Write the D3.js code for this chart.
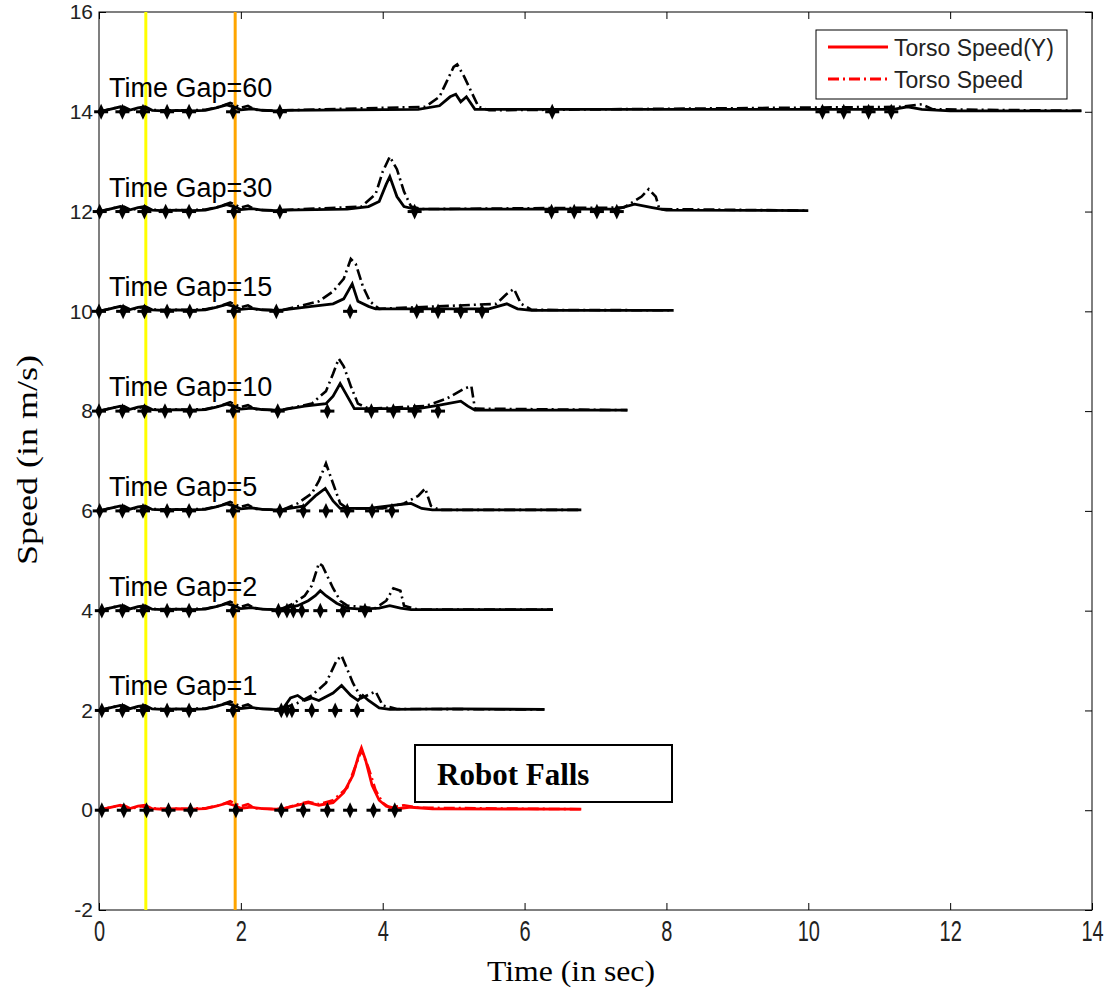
<!DOCTYPE html>
<html><head><meta charset="utf-8">
<script src="https://cdn.jsdelivr.net/npm/d3@7"></script>
<style>body{margin:0;background:#fff}svg{display:block}</style>
</head><body><svg id="c" width="1104" height="990"></svg>
<script>
// ---- data ----
const labels = ["", "Time Gap=1", "Time Gap=2", "Time Gap=5", "Time Gap=10", "Time Gap=15", "Time Gap=30", "Time Gap=60"];
const offsets = [0, 2, 4, 6, 8, 10, 12, 14];
const xTicks = [0, 2, 4, 6, 8, 10, 12, 14];
const yTicks = [-2, 0, 2, 4, 6, 8, 10, 12, 14, 16];
const markerLines = [0.66, 1.92];
const earlyY = [[0,0],[0.15,0.05],[0.3,0.1],[0.4,0.02],[0.55,0.08],[0.65,0.1],[0.75,0.03],[0.9,0.02],[1.1,0.03],[1.3,0.02],[1.5,0.03],[1.65,0.08],[1.8,0.14],[1.9,0.1],[2.0,0.04],[2.15,0.06],[2.3,0.03],[2.5,0.02]];
const early = [[0,0],[0.2,0.07],[0.35,0.1],[0.45,0.03],[0.6,0.08],[0.7,0.04],[0.9,0.03],[1.2,0.03],[1.5,0.04],[1.7,0.1],[1.85,0.18],[2.0,0.08],[2.1,0.12],[2.2,0.04],[2.5,0.02]];
const redY = [[2.6,0.03],[2.8,0.1],[2.95,0.15],[3.1,0.1],[3.3,0.15],[3.45,0.35],[3.58,0.7],[3.66,1.1],[3.7,1.25],[3.76,1.0],[3.85,0.5],[3.95,0.2],[4.05,0.08],[4.2,0.03],[4.4,0.06],[4.7,0.03],[6.8,0.02]];
const red = [[2.6,0.03],[2.8,0.12],[2.95,0.17],[3.1,0.12],[3.3,0.2],[3.5,0.45],[3.62,0.9],[3.7,1.2],[3.8,0.85],[3.9,0.4],[4.0,0.15],[4.1,0.05],[4.3,0.1],[4.5,0.05],[6.8,0.02]];
const gap1Y = [[2.6,0.05],[2.7,0.25],[2.8,0.3],[2.9,0.2],[3.0,0.25],[3.1,0.2],[3.3,0.35],[3.42,0.5],[3.55,0.3],[3.65,0.2],[3.72,0.3],[3.8,0.2],[3.95,0.05],[4.1,0.02],[5,0.03],[6.28,0.02]];
const gap1 = [[2.6,0.05],[2.8,0.15],[3.0,0.3],[3.2,0.55],[3.35,1.0],[3.42,1.1],[3.58,0.55],[3.7,0.25],[3.9,0.38],[4.0,0.1],[4.2,0.03],[6.28,0.02]];
const gap2Y = [[2.6,0.05],[2.8,0.1],[2.95,0.2],[3.05,0.3],[3.12,0.4],[3.2,0.3],[3.35,0.15],[3.5,0.05],[3.7,0.03],[3.95,0.05],[4.1,0.1],[4.25,0.05],[4.4,0.02],[6.4,0.02]];
const gap2 = [[2.6,0.05],[2.75,0.15],[2.9,0.3],[3.0,0.5],[3.1,0.95],[3.15,0.9],[3.3,0.45],[3.4,0.2],[3.5,0.1],[3.9,0.05],[4.05,0.2],[4.15,0.45],[4.25,0.4],[4.3,0.1],[4.5,0.02],[6.4,0.02]];
const gap5Y = [[2.6,0.03],[2.9,0.1],[3.05,0.3],[3.19,0.45],[3.3,0.2],[3.4,0.05],[3.8,0.05],[4.2,0.12],[4.4,0.15],[4.55,0.05],[4.7,0.02],[6.8,0.02]];
const gap5 = [[2.6,0.03],[2.8,0.15],[3.0,0.35],[3.1,0.6],[3.2,0.95],[3.3,0.55],[3.4,0.15],[3.5,0.05],[4.0,0.05],[4.3,0.15],[4.5,0.3],[4.6,0.45],[4.68,0.1],[4.8,0.02],[6.8,0.02]];
const gap10Y = [[2.6,0.03],[2.9,0.1],[3.2,0.15],[3.3,0.3],[3.4,0.55],[3.5,0.3],[3.6,0.05],[4.5,0.05],[4.8,0.12],[5.1,0.2],[5.2,0.1],[5.3,0.02],[7.45,0.02]];
const gap10 = [[2.6,0.03],[3.0,0.15],[3.2,0.4],[3.3,0.75],[3.38,1.05],[3.45,0.9],[3.55,0.5],[3.65,0.15],[3.8,0.05],[4.6,0.1],[4.9,0.25],[5.15,0.45],[5.25,0.5],[5.3,0.05],[7.45,0.02]];
const gap15Y = [[2.6,0.03],[3.0,0.1],[3.3,0.15],[3.45,0.25],[3.57,0.55],[3.65,0.2],[3.8,0.1],[3.9,0.05],[5.5,0.05],[5.75,0.15],[5.9,0.05],[6.1,0.02],[8.1,0.02]];
const gap15 = [[2.6,0.03],[3.1,0.2],[3.3,0.4],[3.45,0.65],[3.55,1.05],[3.62,0.95],[3.72,0.5],[3.82,0.2],[3.95,0.05],[5.6,0.15],[5.75,0.35],[5.85,0.45],[5.95,0.15],[6.1,0.03],[8.1,0.02]];
const gap30Y = [[2.6,0.03],[3.5,0.05],[3.8,0.1],[3.95,0.2],[4.05,0.55],[4.1,0.7],[4.2,0.3],[4.3,0.1],[4.45,0.05],[7.3,0.05],[7.55,0.15],[7.8,0.08],[8.0,0.03],[10,0.02]];
const gap30 = [[2.6,0.03],[3.7,0.1],[3.9,0.35],[4.0,0.8],[4.1,1.1],[4.2,0.85],[4.3,0.4],[4.4,0.1],[4.55,0.05],[7.4,0.08],[7.65,0.3],[7.75,0.45],[7.85,0.3],[7.9,0.05],[10,0.02]];
const gap60Y = [[2.6,0.03],[4.5,0.05],[4.8,0.12],[4.95,0.3],[5.03,0.35],[5.1,0.2],[5.18,0.3],[5.3,0.05],[11.2,0.05],[11.4,0.1],[11.6,0.05],[12,0.02],[13.85,0.02]];
const gap60 = [[2.6,0.03],[4.6,0.1],[4.8,0.3],[4.9,0.6],[5.0,0.9],[5.05,0.95],[5.15,0.7],[5.25,0.4],[5.35,0.1],[5.5,0.03],[11.3,0.1],[11.6,0.15],[11.75,0.05],[13.85,0.02]];
const marksRed = [0.04,0.35,0.67,0.98,1.29,1.93,2.57,2.88,3.22,3.54,3.87,4.17];
const marks1 = [0.04,0.33,0.62,0.96,1.27,1.89,2.57,2.65,2.72,3.0,3.33,3.64];
const marks2 = [0.04,0.33,0.62,0.96,1.27,1.89,2.53,2.65,2.74,2.86,3.12,3.44,3.75];
const marks5 = [0.01,0.33,0.62,0.96,1.27,1.89,2.55,2.88,3.2,3.5,3.85,4.13];
const marks10 = [0,0.33,0.64,0.93,1.28,1.89,2.52,3.22,3.84,4.15,4.45,4.78];
const marks15 = [0,0.34,0.64,0.96,1.28,1.9,2.5,3.54,4.48,4.78,5.1,5.4];
const marks30 = [0.01,0.33,0.64,0.94,1.27,1.9,2.55,4.45,6.38,6.7,7.02,7.3];
const marks60 = [0.03,0.33,0.62,0.96,1.27,1.89,2.55,6.39,10.2,10.5,10.85,11.17];

const seriesY = [redY, gap1Y, gap2Y, gap5Y, gap10Y, gap15Y, gap30Y, gap60Y];
const seriesS = [red, gap1, gap2, gap5, gap10, gap15, gap30, gap60];
const seriesM = [marksRed, marks1, marks2, marks5, marks10, marks15, marks30, marks60];
const colors = ["#ff0000","#000","#000","#000","#000","#000","#000","#000"];

// ---- layout ----
const L = 99, R = 1092, T = 12, B = 910;
const svg = d3.select("#c");
const x = d3.scaleLinear().domain([0, 14]).range([L, R]);
const y = d3.scaleLinear().domain([-2, 16]).range([B, T]);

const fontTick = "Liberation Sans, Arial, sans-serif";
const serif = "Liberation Serif, Times New Roman, serif";
const fmt = d => String(d);
const axB = svg.append("g").attr("transform", `translate(0,${B})`)
  .call(d3.axisBottom(x).tickValues(xTicks).tickSize(-7).tickFormat(fmt));
const axL = svg.append("g").attr("transform", `translate(${L},0)`)
  .call(d3.axisLeft(y).tickValues(yTicks).tickSize(-7).tickPadding(6).tickFormat(fmt));
svg.append("g").attr("transform", `translate(0,${T})`)
  .call(d3.axisTop(x).tickValues(xTicks).tickSize(-7).tickFormat(""));
svg.append("g").attr("transform", `translate(${R},0)`)
  .call(d3.axisRight(y).tickValues(yTicks).tickSize(-7).tickFormat(""));
svg.selectAll(".domain").remove();
svg.selectAll(".tick line").attr("stroke", "#000");
svg.selectAll(".tick text").attr("font-family", fontTick).attr("fill", "#222");
axL.selectAll(".tick text").attr("font-size", 21);
axB.selectAll(".tick text").attr("font-size", 20).attr("y", 0).attr("dy", 0)
  .attr("transform", "translate(0,31) scale(1,1.45)");
svg.append("rect").attr("x", L).attr("y", T).attr("width", R - L).attr("height", B - T)
  .attr("fill", "none").attr("stroke", "#000").attr("stroke-width", 1);

// vertical event lines
svg.selectAll(".vl").data(markerLines).join("line")
  .attr("x1", d => x(d)).attr("x2", d => x(d)).attr("y1", T).attr("y2", B)
  .attr("stroke", (d, i) => i === 0 ? "#ffff00" : "#ffa500").attr("stroke-width", 3);

const line = d3.line().x(d => x(d[0])).y(d => y(d[1]));
const dashArr = "11,4,2,4";

seriesY.forEach((s, i) => {
  const off = offsets[i];
  const g = svg.append("g");
  const shift = p => [p[0], p[1] + off];
  const dataS = early.concat(seriesS[i]).map(shift);
  const dataY = earlyY.concat(s).map(shift);
  g.append("path").attr("d", line(dataS)).attr("fill", "none").attr("stroke", colors[i])
    .attr("stroke-width", 2.6).attr("stroke-dasharray", dashArr);
  g.append("path").attr("d", line(dataY)).attr("fill", "none").attr("stroke", colors[i])
    .attr("stroke-width", 2.8);
  const sym = d3.symbol().type(d3.symbolDiamond).size(60);
  g.selectAll(".m").data(seriesM[i]).join("path")
    .attr("d", sym).attr("fill", "#000")
    .attr("transform", d => `translate(${x(d)},${y(off)}) scale(0.9,1.1)`);
  g.selectAll(".mh").data(seriesM[i]).join("line")
    .attr("x1", d => x(d) - 7).attr("x2", d => x(d) + 7)
    .attr("y1", y(off)).attr("y2", y(off)).attr("stroke", "#000").attr("stroke-width", 3);
  if (labels[i]) {
    svg.append("text").attr("x", x(0) + 10).attr("y", y(off) - 15)
      .attr("font-family", fontTick).attr("font-size", 27).attr("fill", "#000").text(labels[i]);
  }
});

// Robot Falls box
svg.append("rect").attr("x", 415).attr("y", 745).attr("width", 257).attr("height", 57)
  .attr("fill", "#fff").attr("stroke", "#000").attr("stroke-width", 2);
svg.append("text").attr("x", 437).attr("y", 785).attr("font-family", serif)
  .attr("font-weight", "bold").attr("font-size", 31).text("Robot Falls");

// legend
const lg = svg.append("g");
lg.append("rect").attr("x", 816).attr("y", 30).attr("width", 251).attr("height", 69)
  .attr("fill", "#fff").attr("stroke", "#000").attr("stroke-width", 1);
const legendItems = [["Torso Speed(Y)", null], ["Torso Speed", dashArr]];
legendItems.forEach((d, i) => {
  const yy = 47 + i * 32;
  lg.append("line").attr("x1", 828).attr("x2", 888).attr("y1", yy).attr("y2", yy)
    .attr("stroke", "#ff0000").attr("stroke-width", 3).attr("stroke-dasharray", d[1]);
  lg.append("text").attr("x", 894).attr("y", yy + 9).attr("font-family", fontTick)
    .attr("font-size", 23).attr("fill", "#222").text(d[0]);
});

// axis titles
svg.append("text").attr("x", 571).attr("y", 981).attr("text-anchor", "middle")
  .attr("font-family", serif).attr("font-size", 30).attr("textLength", 168)
  .attr("lengthAdjust", "spacingAndGlyphs").text("Time (in sec)");
svg.append("text").attr("transform", "translate(37,460) rotate(-90)").attr("text-anchor", "middle")
  .attr("font-family", serif).attr("font-size", 30).attr("textLength", 210)
  .attr("lengthAdjust", "spacingAndGlyphs").text("Speed (in m/s)");
</script></body></html>
